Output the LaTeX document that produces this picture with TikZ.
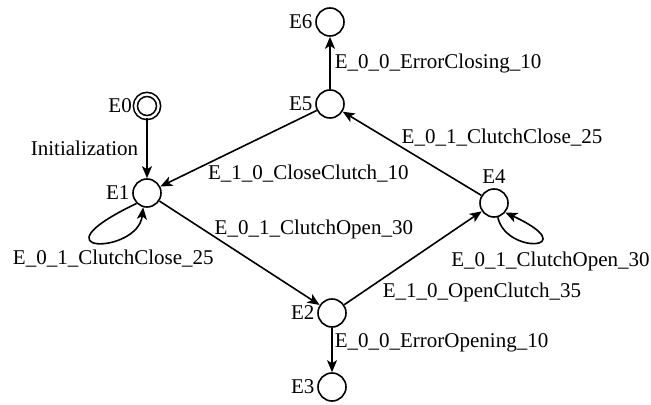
\documentclass[tikz,border=0pt]{standalone}
\usepackage{fontspec}
\setmainfont{Liberation Serif}
\usetikzlibrary{arrows.meta,%
                positioning}

\begin{document}
\begin{tikzpicture}[x=0.5pt,y=0.5pt,line width=0.8pt,
  >={Stealth[length=6pt,width=5pt,inset=1.5pt]},
  every node/.style={font=\fontsize{10.5}{12}\selectfont},
  st/.style={circle,draw,minimum size=14pt,inner sep=0pt,label distance=0pt},
  lab/.style={inner sep=1pt}]
\useasboundingbox (0,0) rectangle (651,-405);
%states
\node[st,double,double distance=1.2pt,minimum size=11.6pt,label={[lab]left:E0}] (E0) at (147,-106) {};
\node[st,label={[lab]left:E1}] (E1) at (147,-193) {};
\node[st,label={[lab]left:E2}] (E2) at (332,-313) {};
\node[st,label={[lab]left:E3}] (E3) at (332,-387) {};
\node[st,label={[lab,inner sep=2pt]above:E4}] (E4) at (494,-203) {};
\node[st,label={[lab]left:E5}] (E5) at (330,-104) {};
\node[st,label={[lab]left:E6}] (E6) at (330,-22) {};
%transitions
\draw[->] (E0) -- node[lab,left=3pt] {Initialization} (E1);
\draw[->] (E5) -- node[lab,pos=0.5,anchor=west,inner sep=2pt] {E\_0\_0\_ErrorClosing\_10} (E6);
\draw[->] (E4) -- node[lab,pos=0.58,anchor=south west,inner sep=0pt] {E\_0\_1\_ClutchClose\_25} (E5);
\draw[->] (E5) -- node[lab,pos=0.70,anchor=north west,inner sep=0pt] {E\_1\_0\_CloseClutch\_10} (E1);
\draw[->] (E1) -- node[lab,pos=0.34,anchor=south west,inner sep=0pt,yshift=-1.5pt] {E\_0\_1\_ClutchOpen\_30} (E2);
\draw[->] (E2) -- node[lab,pos=0.26,anchor=north west] {E\_1\_0\_OpenClutch\_35} (E4);
\draw[->] (E2) -- node[lab,pos=0.33,anchor=west] {E\_0\_0\_ErrorOpening\_10} (E3);
\draw[->] (E1.225) .. controls +(205.5:120) and +(263.7:48) .. node[lab,pos=0.5,anchor=north,xshift=8pt,yshift=-2pt] {E\_0\_1\_ClutchClose\_25} (E1.255);
\draw[->] (E4.285) .. controls +(282:39) and +(335:88) .. node[lab,pos=0.5,anchor=north,xshift=8pt,yshift=-3pt] {E\_0\_1\_ClutchOpen\_30} (E4.320);
\end{tikzpicture}
\end{document}
